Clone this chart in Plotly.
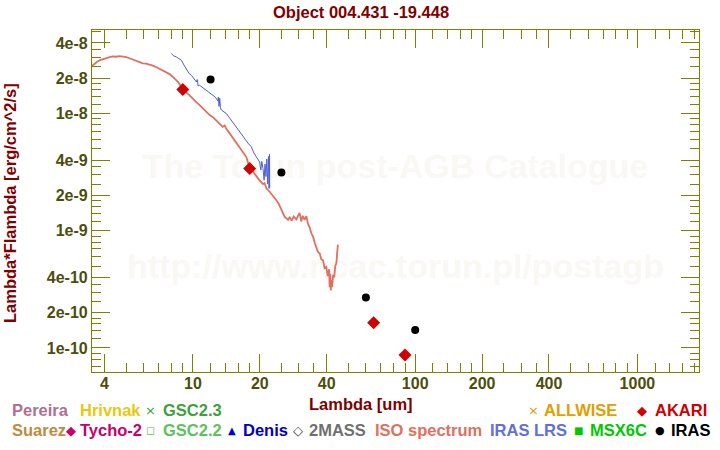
import plotly.graph_objects as go

# ---------------- data ----------------
iso_wl = [3.52, 3.62, 3.72, 3.82, 3.95, 4.08, 4.22, 4.36, 4.50, 4.68, 4.85, 5.01, 5.18, 5.37,
          5.55, 5.76, 5.95, 6.15, 6.38, 6.60, 6.85, 7.08, 7.35, 7.60, 7.86, 8.10, 8.35, 8.56,
          8.80, 9.02, 9.30, 9.66, 10.0, 10.35, 10.72, 11.1, 11.5, 11.89, 12.3, 12.74, 13.2,
          13.6, 13.9, 14.13, 14.6, 15.14, 15.7, 16.23, 16.8, 17.39, 17.7, 18.0, 18.6, 19.29,
          19.9, 20.3, 20.65, 21.0, 21.4, 22.14, 22.9, 23.73, 24.3, 25.0, 25.4, 25.86, 26.3,
          26.8, 27.24, 27.8, 28.4, 29.2, 29.8, 30.2, 30.7, 31.2, 31.8, 32.4, 32.9, 33.5, 34.1,
          34.7, 35.3, 35.9, 36.5, 37.2, 37.8, 38.5, 39.1, 39.8, 40.4, 41.0, 41.2, 41.5, 41.7,
          42.0, 42.3, 42.7, 43.2, 43.7, 44.2, 44.6, 44.9]
iso_flux = [2.55e-8, 2.68e-8, 2.78e-8, 2.85e-8, 2.92e-8, 2.98e-8, 3.03e-8, 3.07e-8, 3.05e-8,
            3.09e-8, 3.06e-8, 3.03e-8, 2.96e-8, 2.89e-8, 2.80e-8, 2.72e-8, 2.68e-8, 2.66e-8,
            2.62e-8, 2.56e-8, 2.48e-8, 2.41e-8, 2.32e-8, 2.25e-8, 2.17e-8, 2.06e-8, 1.95e-8,
            1.86e-8, 1.73e-8, 1.62e-8, 1.52e-8, 1.43e-8, 1.33e-8, 1.25e-8, 1.18e-8, 1.10e-8,
            1.03e-8, 9.7e-9, 9.3e-9, 8.7e-9, 8.3e-9, 7.7e-9, 7.9e-9, 7.4e-9, 6.8e-9, 6.15e-9,
            5.7e-9, 5.2e-9, 4.7e-9, 4.25e-9, 3.8e-9, 3.45e-9, 3.2e-9, 2.9e-9, 2.7e-9, 2.6e-9,
            2.5e-9, 2.55e-9, 2.3e-9, 2.15e-9, 2.0e-9, 1.82e-9, 1.70e-9, 1.50e-9, 1.40e-9,
            1.31e-9, 1.28e-9, 1.24e-9, 1.30e-9, 1.22e-9, 1.32e-9, 1.25e-9, 1.36e-9, 1.42e-9,
            1.20e-9, 1.34e-9, 1.24e-9, 1.33e-9, 1.15e-9, 1.07e-9, 9.5e-10, 8.9e-10, 7.9e-10,
            7.3e-10, 6.6e-10, 6.4e-10, 5.7e-10, 5.6e-10, 4.8e-10, 4.9e-10, 4.1e-10, 4.7e-10,
            3.3e-10, 4.3e-10, 3.1e-10, 3.8e-10, 3.3e-10, 4.2e-10, 4.0e-10, 5.0e-10, 5.3e-10,
            6.6e-10, 7.6e-10]

lrs_wl = [7.99, 8.2, 8.42, 8.65, 8.87, 9.1, 9.34, 9.6, 9.84, 10.1, 10.36, 10.45, 10.55, 10.72,
          11.1, 11.49, 11.9, 12.3, 12.6, 12.96, 13.0, 13.1, 13.2, 13.3, 13.42, 14.13, 14.6,
          15.14, 15.7, 16.23, 16.8, 17.39, 17.8, 18.32, 18.8, 19.29, 19.96, 20.2, 20.4, 20.65,
          20.9, 21.1, 21.3, 21.5, 21.7, 21.9, 22.0, 22.1, 22.15]
lrs_flux = [3.25e-8, 3.1e-8, 3.04e-8, 2.95e-8, 2.85e-8, 2.6e-8, 2.36e-8, 2.2e-8, 2.12e-8,
            1.98e-8, 1.86e-8, 1.95e-8, 1.72e-8, 1.74e-8, 1.65e-8, 1.58e-8, 1.50e-8, 1.43e-8,
            1.38e-8, 1.28e-8, 1.38e-8, 1.15e-8, 1.35e-8, 1.12e-8, 1.07e-8, 1.0e-8, 9.2e-9,
            8.2e-9, 7.6e-9, 6.97e-9, 6.4e-9, 5.9e-9, 5.5e-9, 5.2e-9, 4.6e-9, 4.26e-9, 3.86e-9,
            3.3e-9, 3.9e-9, 3.4e-9, 2.7e-9, 3.7e-9, 2.9e-9, 4.1e-9, 2.5e-9, 4.3e-9, 2.3e-9,
            4.5e-9, 2.3e-9]

akari_wl = [9, 18, 65, 90]
akari_flux = [1.6e-8, 3.39e-9, 1.64e-10, 8.7e-11]
iras_wl = [12, 25, 60, 100]
iras_flux = [1.95e-8, 3.14e-9, 2.69e-10, 1.42e-10]

x_major = [4, 10, 20, 40, 100, 200, 400, 1000]
x_labels = ["4", "10", "20", "40", "100", "200", "400", "1000"]
x_minor = [5, 6, 7, 8, 9, 12, 14, 16, 18, 25, 30, 35, 50, 60, 70, 80, 90,
           120, 140, 160, 180, 250, 300, 350, 500, 600, 700, 800, 900,
           1200, 1400, 1600, 1800]
y_major = [4e-8, 2e-8, 1e-8, 4e-9, 2e-9, 1e-9, 4e-10, 2e-10, 1e-10]
y_labels = ["4e-8", "2e-8", "1e-8", "4e-9", "2e-9", "1e-9", "4e-10", "2e-10", "1e-10"]
y_minor = [5e-8, 3.5e-8, 3e-8, 2.5e-8, 1.8e-8, 1.6e-8, 1.4e-8, 1.2e-8,
           9e-9, 8e-9, 7e-9, 6e-9, 5e-9, 3.5e-9, 3e-9, 2.5e-9, 1.8e-9, 1.6e-9, 1.4e-9, 1.2e-9,
           9e-10, 8e-10, 7e-10, 6e-10, 5e-10, 3.5e-10, 3e-10, 2.5e-10, 1.8e-10, 1.6e-10,
           1.4e-10, 1.2e-10, 9e-11, 8e-11, 7e-11]

legend_row1 = [("Pereira", "#b07090", 10), ("Hrivnak", "#e8c810", 78),
               ("GSC2.3", "#40a040", 161), ("ALLWISE", "#e0a000", 542), ("AKARI", "#d00000", 653)]
legend_row2 = [("Suarez", "#c08a40", 10), ("Tycho-2", "#c8006e", 78), ("GSC2.2", "#60c060", 161),
               ("Denis", "#0000c8", 241), ("2MASS", "#707070", 307), ("ISO spectrum", "#e07060", 373),
               ("IRAS LRS", "#6070d8", 488), ("MSX6C", "#00c800", 588), ("IRAS", "#000000", 669)]
legend_sym1 = [("\u00d7", "#40a040", 150, 13), ("\u00d7", "#e0a000", 533, 13),
               ("\u25c6", "#d00000", 642, 13)]
legend_sym2 = [("\u25c6", "#c8006e", 71, 13), ("\u25fb", "#60c060", 150, 11),
               ("\u25b2", "#0000c8", 232, 10), ("\u25c7", "#404040", 298, 13),
               ("\u25a0", "#00c800", 578, 10), ("\u25cf", "#000000", 660, 11)]

# ---------------- layout constants ----------------
FW, FH = 720, 450
L, R, T, B = 92, 699, 30, 372   # plot frame in pixels
W, H = R - L, B - T
FONT = "Liberation Sans, Arial, sans-serif"
OLIVE = "#808000"
TICKTXT = "#4d4d0d"
DARKRED = "#800000"
WATER = "#faf8f4"


def px(x):   # window pixel -> paper x
    return (x - L) / W


def py(y):   # window pixel -> paper y
    return (B - y) / H


fig = go.Figure()
fig.add_trace(go.Scatter(x=iso_wl, y=iso_flux, mode="lines",
                         line=dict(color="#e07060", width=1.8)))
fig.add_trace(go.Scatter(x=lrs_wl, y=lrs_flux, mode="lines",
                         line=dict(color="#5060d0", width=1)))
fig.add_trace(go.Scatter(x=akari_wl, y=akari_flux, mode="markers",
                         marker=dict(symbol="diamond", size=10, color="#d00000")))
fig.add_trace(go.Scatter(x=iras_wl, y=iras_flux, mode="markers",
                         marker=dict(symbol="circle", size=8, color="#000000")))

axis_common = dict(type="log", showgrid=False, zeroline=False, showline=True, automargin=False,
                   linecolor=OLIVE, linewidth=1.2, mirror="ticks", ticks="inside",
                   ticklen=18, tickwidth=1.2, tickcolor=OLIVE, tickmode="array",
                   tickfont=dict(family=FONT, size=16, color=TICKTXT, weight="bold"))

fig.update_xaxes(range=[0.5457, 3.2771], tickvals=x_major, ticktext=x_labels,
                 ticklabelstandoff=-3,
                 minor=dict(tickmode="array", tickvals=x_minor, ticks="inside", ticklen=9,
                            tickwidth=1.2, tickcolor=OLIVE), **axis_common)
fig.update_yaxes(range=[-10.2055, -7.2874], tickvals=y_major, ticktext=y_labels,
                 minor=dict(tickmode="array", tickvals=y_minor, ticks="inside", ticklen=9,
                            tickwidth=1.2, tickcolor=OLIVE), **axis_common)

# watermark drawn below the data (shape labels, layer below)
shapes = []
for txt, yc in (("The Torun post-AGB Catalogue", 163), ("http://www.ncac.torun.pl/postagb", 263)):
    shapes.append(dict(type="rect", xref="paper", yref="paper", layer="below",
                       x0=0.0, x1=1.0, y0=py(yc + 20), y1=py(yc - 20),
                       line=dict(width=0), fillcolor="rgba(0,0,0,0)",
                       label=dict(text=txt, textposition="middle center",
                                  font=dict(family=FONT, size=34, color=WATER, weight="bold"))))

ann = []
# titles
ann.append(dict(x=px(361), y=py(12), text="Object 004.431 -19.448",
                font=dict(family=FONT, size=16.5, color=DARKRED, weight="bold")))
ann.append(dict(x=px(361), y=py(404), text="Lambda [um]",
                font=dict(family=FONT, size=16.5, color=DARKRED, weight="bold")))
ann.append(dict(x=px(10), y=py(203), text="Lambda*Flambda [erg/cm^2/s]", textangle=-90,
                font=dict(family=FONT, size=16.5, color=DARKRED, weight="bold")))
# legend texts
for row, yy in ((legend_row1, 410), (legend_row2, 430)):
    for txt, col, x0 in row:
        ann.append(dict(x=px(x0), y=py(yy), text=txt, xanchor="left",
                        font=dict(family=FONT, size=16.5, color=col, weight="bold")))
for row, yy in ((legend_sym1, 410), (legend_sym2, 430)):
    for sym, col, xc, sz in row:
        ann.append(dict(x=px(xc), y=py(yy), text=sym,
                        font=dict(family="DejaVu Sans", size=sz, color=col)))

for a in ann:
    a.setdefault("xref", "paper")
    a.setdefault("yref", "paper")
    a.setdefault("xanchor", "center")
    a.setdefault("yanchor", "middle")
    a.setdefault("showarrow", False)
fig.update_layout(width=FW, height=FH, margin=dict(l=L, r=FW - R, t=T, b=FH - B),
                  paper_bgcolor="white", plot_bgcolor="white", showlegend=False,
                  annotations=ann, shapes=shapes)

fig.write_html("out.html", config={"displayModeBar": False},
               post_script="document.body.style.margin='0px';document.body.style.overflow='hidden';")
